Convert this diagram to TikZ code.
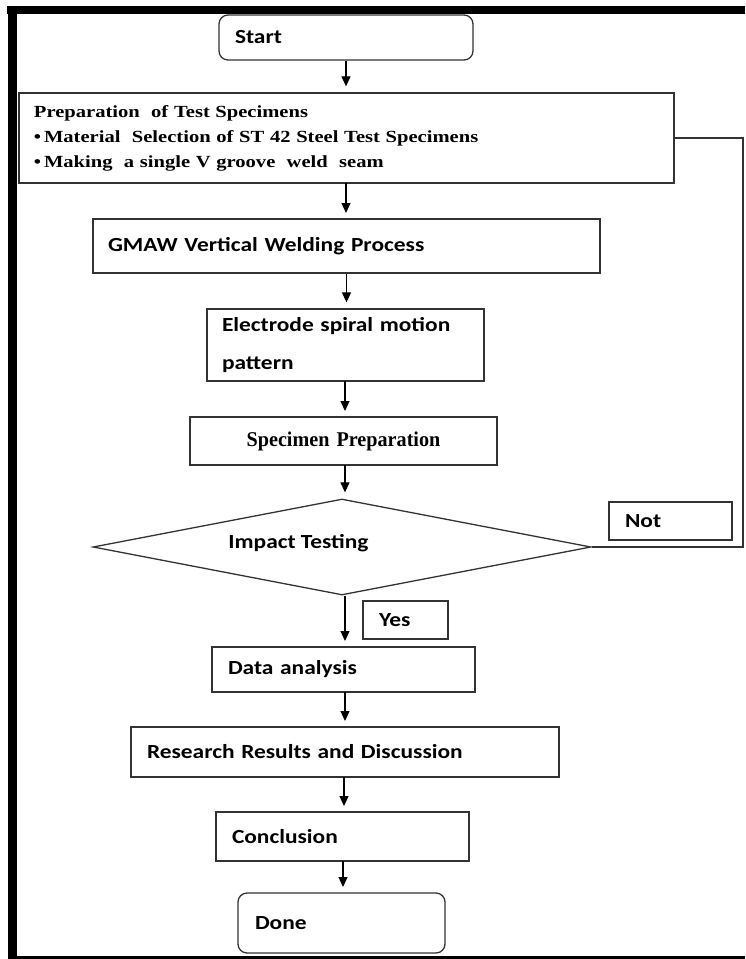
\documentclass[tikz,border=0pt]{standalone}
\usepackage{fontspec}
\setmainfont{Carlito}[FakeStretch=1.17, WordSpace=0.45]
\newfontfamily\serifw[FakeStretch=1.21]{Liberation Serif}
\newfontfamily\serifn[FakeStretch=0.96]{Liberation Serif}
\usetikzlibrary{shapes.geometric,arrows.meta}
\definecolor{linegray}{HTML}{333333}
\tikzset{
  box/.style={draw=linegray, line width=1.3pt, fill=white, inner xsep=16pt, inner ysep=0pt, align=left, font=\fontsize{20}{30}\selectfont\bfseries},
  rbox/.style={box, rounded corners=9pt},
  flow/.style={draw=black, line width=1.2pt, -{Triangle[length=10pt,width=9pt]}, shorten >=6pt},
  fb/.style={draw=linegray, line width=1.3pt},
}
\begin{document}
\begin{tikzpicture}[x=1pt,y=-1pt]
\useasboundingbox (0,0) rectangle (745,959);
% frame
\fill[black] (7,6) rectangle (745,14);
\fill[black] (8,6) rectangle (17,959);
\fill[black] (8,956) rectangle (745,959);
% nodes
\node[rbox, minimum width=254pt, minimum height=45pt, text width=222pt] (start) at (346,37.5) {Start};
\node[box, minimum width=655pt, minimum height=90pt, text width=625pt, inner xsep=15pt,
      font=\serifw\bfseries\fontsize{17}{25}\selectfont] (prep) at (346.5,138)
  {Preparation\ \ of Test Specimens\\
   \textbullet\,Material\ \ Selection of ST 42 Steel Test Specimens\\
   \textbullet\,Making\ \ a single V groove\ \ weld\ \ seam};
\node[box, minimum width=507pt, minimum height=54pt, text width=477pt, inner xsep=15pt] (gmaw) at (346.5,246) {GMAW Vertical Welding Process};
\node[box, minimum width=277pt, minimum height=72pt, text width=247pt, inner xsep=15pt, font=\fontsize{20}{38}\selectfont\bfseries] (elec) at (345.5,345) {Electrode spiral motion\\pattern};
\node[box, minimum width=305pt, minimum height=48pt, text width=275pt, align=center,
      font=\serifn\bfseries\fontsize{21}{24}\selectfont] (spec) at (343.5,441) {Specimen\ Preparation};
\node[draw=linegray, line width=1.3pt, diamond, minimum width=498pt, minimum height=96pt, inner sep=0pt] (dia) at (342,547) {};
\node[font=\fontsize{20}{24}\selectfont\bfseries] (diatxt) at (298.5,543) {Impact\hspace{5pt}Testing};
\node[box, minimum width=123pt, minimum height=38pt, text width=91pt] (not) at (670.5,521) {Not};
\node[box, minimum width=85pt, minimum height=38pt, text width=53pt] (yes) at (405.5,620) {Yes};
\node[box, minimum width=263pt, minimum height=45pt, text width=231pt] (data) at (343.5,669.5) {Data analysis};
\node[box, minimum width=428pt, minimum height=50pt, text width=396pt] (res) at (345,752) {Research Results and Discussion};
\node[box, minimum width=253pt, minimum height=49pt, text width=221pt] (conc) at (342.5,836.5) {Conclusion};
\node[rbox, minimum width=207pt, minimum height=60pt, text width=173pt, inner xsep=17pt] (done) at (341.5,923) {Done};
\coordinate (fbc) at (743,547);
% connectors
\draw[flow] (start.south) -- (start.south |- prep.north);
\draw[flow] (346,183) -- (346,219);
\draw[flow] (gmaw.south) -- (gmaw.south |- elec.north);
\draw[flow] (345,381) -- (345,417);
\draw[flow] (345,465) -- (dia.north -| 345,0);
\draw[flow] (dia.south -| 345,0) -- (345,647);
\draw[flow] (345,692) -- (345,727);
\draw[flow] (344,777) -- (344,812);
\draw[flow] (343,861) -- (343,893);
\draw[fb] (dia.east) -- (fbc) |- (prep.east);
\end{tikzpicture}
\end{document}
